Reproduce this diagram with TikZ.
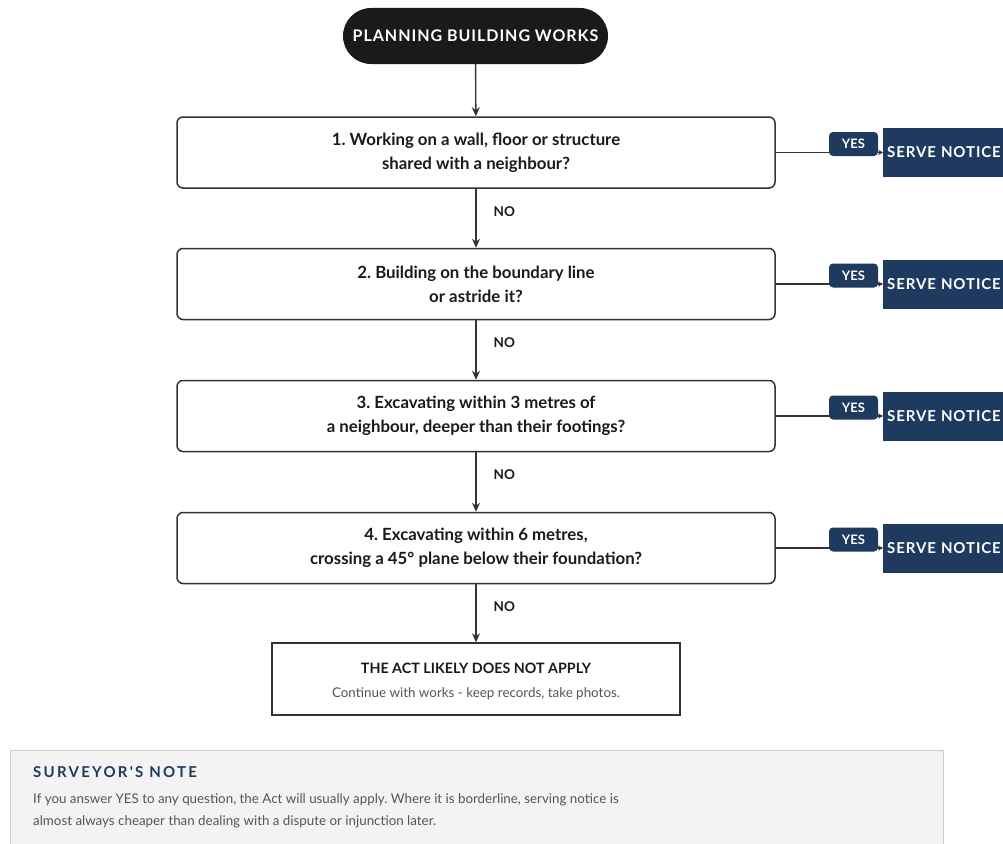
\documentclass[tikz,border=0pt]{standalone}
\usepackage{fontspec}
\setmainfont{Lato}
\newfontfamily\spacedfont[LetterSpace=6]{Lato}
\newfontfamily\notefont[LetterSpace=15]{Lato}
\usetikzlibrary{arrows.meta}
\definecolor{navy}{HTML}{1F3A5F}
\definecolor{pillblack}{HTML}{1A1A1A}
\definecolor{edgegray}{HTML}{333333}
\definecolor{subgray}{HTML}{555555}
\definecolor{notebg}{HTML}{F3F3F3}
\definecolor{notebd}{HTML}{CCCCCC}
\frenchspacing
\tikzset{
  pill/.style={fill=pillblack, text=white, rounded corners=28pt, minimum width=265pt, minimum height=56pt, inner sep=0pt, font=\spacedfont\bfseries\fontsize{16}{19}\selectfont},
  qbox/.style={draw=edgegray, line width=1.5pt, fill=white, rounded corners=6pt, minimum width=598pt, minimum height=71pt, align=center, inner sep=0pt, font=\frenchspacing\bfseries\fontsize{16.8}{24}\selectfont, text=pillblack},
  endbox/.style={draw=edgegray, line width=1.5pt, fill=white, minimum width=408pt, minimum height=72pt, align=center, inner sep=0pt, font=\fontsize{14.3}{24}\selectfont},
  serve/.style={fill=navy, text=white, anchor=west, minimum height=49pt, minimum width=130pt, text width=122pt, inner xsep=4pt, inner ysep=0pt, align=left, font=\spacedfont\bfseries\fontsize{15}{18}\selectfont},
  yestag/.style={fill=navy, text=white, rounded corners=4pt, minimum width=49pt, minimum height=24pt, inner sep=0pt, font=\bfseries\fontsize{13}{15}\selectfont},
  nolabel/.style={anchor=west, inner sep=0pt, text=pillblack, font=\bfseries\fontsize{13.5}{15}\selectfont},
  arr/.style={draw=edgegray, line width=1.4pt, -{Stealth[length=9pt,width=8pt]}},
  yesarr/.style={draw=edgegray, line width=1.2pt, -{Stealth[length=5pt,width=5pt]}}
}
\begin{document}
\begin{tikzpicture}[x=1pt,y=-1pt]
\useasboundingbox (0,0) rectangle (1003,843);
% note panel
\fill[notebg] (10,750) rectangle (943,860);
\draw[notebd, line width=1pt] (10,860) -- (10,750) -- (943,750) -- (943,860);
\node[anchor=west, inner sep=0pt, text=navy, font=\notefont\bfseries\fontsize{15}{17}\selectfont] (notetitle) at (33,772.5) {SURVEYOR'S NOTE};
\node[anchor=north west, inner sep=0pt, align=left, text=subgray, font=\fontsize{13.35}{22}\selectfont] (notebody) at (33,793) {If you answer YES to any question, the Act will usually apply. Where it is borderline, serving notice is\\almost always cheaper than dealing with a dispute or injunction later.};

% main flow
\node[pill] (start) at (475.5,36) {PLANNING BUILDING WORKS};
\node[qbox] (q1) at (476,152.5) {1. Working on a wall, floor or structure\\shared with a neighbour?};
\node[qbox] (q2) at (476,284) {2. Building on the boundary line\\or astride it?};
\node[qbox] (q3) at (476,416) {3. Excavating within 3 metres of\\a neighbour, deeper than their footings?};
\node[qbox] (q4) at (476,548) {4. Excavating within 6 metres,\\crossing a 45\textdegree{} plane below their foundation?};
\node[endbox] (q5) at (476,679) {};
\node[inner sep=0pt, align=center, font=\fontsize{14.3}{24}\selectfont] (q5text) at (476,681.5) {{\bfseries\color{pillblack}THE ACT LIKELY DOES NOT APPLY}\\{\fontsize{13.4}{24}\selectfont\color{subgray}Continue with works - keep records, take photos.}};

\draw[arr] (start) -- (q1);
\draw[arr] (q1) -- node[nolabel, pos=0.38, xshift=17pt] (no1) {NO} (q2);
\draw[arr] (q2) -- node[nolabel, pos=0.38, xshift=17pt] (no2) {NO} (q3);
\draw[arr] (q3) -- node[nolabel, pos=0.38, xshift=17pt] (no3) {NO} (q4);
\draw[arr] (q4) -- node[nolabel, pos=0.38, xshift=17pt] (no4) {NO} (q5);

% serve notice branches
\foreach \i/\y in {1/152.5,2/284,3/416,4/548}{
  \node[serve] (s\i) at (883,\y) {SERVE NOTICE};
  \draw[yesarr] (q\i.east) -- (s\i.west);
  \node[yestag] (y\i) at (853.5,\y-8.5) {YES};
}
\end{tikzpicture}
\end{document}
